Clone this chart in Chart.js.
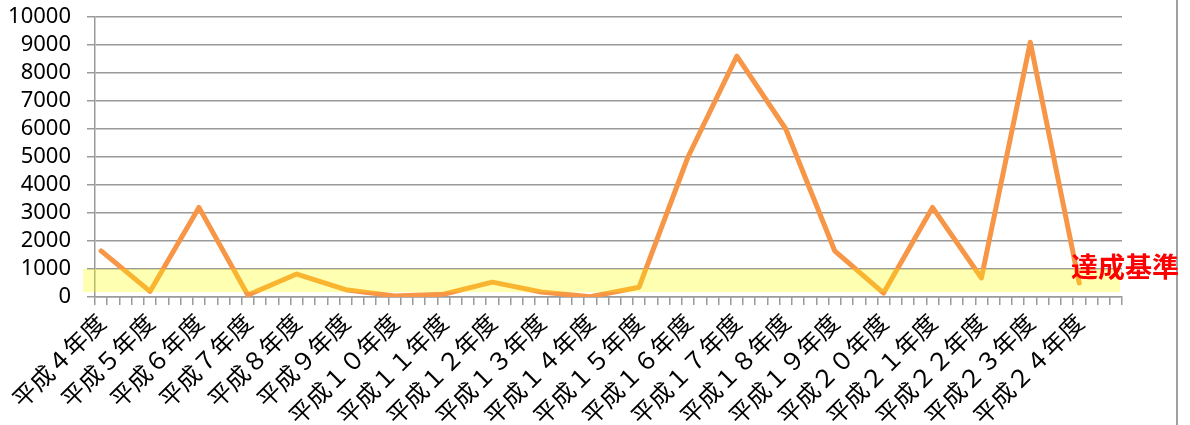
<!DOCTYPE html>
<html>
<head>
<meta charset="utf-8">
<script src="https://cdn.jsdelivr.net/npm/chart.js@4.4.1/dist/chart.umd.min.js"></script>
<style>
  html, body { margin: 0; padding: 0; background: #fff; }
  #wrap { width: 1190px; height: 425px; }
</style>
</head>
<body>
<div id="wrap"><canvas id="chart" width="1190" height="425"></canvas></div>
<script>
// 年度ごとの値
const years = ['平成４年度', '平成５年度', '平成６年度', '平成７年度', '平成８年度', '平成９年度',
  '平成１０年度', '平成１１年度', '平成１２年度', '平成１３年度', '平成１４年度', '平成１５年度',
  '平成１６年度', '平成１７年度', '平成１８年度', '平成１９年度', '平成２０年度', '平成２１年度',
  '平成２２年度', '平成２３年度', '平成２４年度'];
const values = [1650, 200, 3200, 70, 820, 260, 40, 100, 530, 180, 10, 350,
  5000, 8600, 6000, 1650, 140, 3200, 680, 9100, 500];
const yMax = 10000;
const yStep = 1000;
const targetValue = 1000;   // 達成基準
const bandBottom = 170;
const targetLabel = '達成基準';

// each year takes 4 small tick slots on the x axis
const slotsPerYear = 4;
const slotLabels = [];
const slotData = [];
years.forEach((y, i) => {
  for (let k = 0; k < slotsPerYear; k++) {
    slotLabels.push(k === 0 ? y : '');
    slotData.push(k === 0 ? values[i] : null);
  }
});

const gridColor = '#9a9a9a';

const targetBand = {
  id: 'targetBand',
  afterDatasetsDraw(chart) {
    const { ctx, chartArea, scales } = chart;
    const yTop = scales.y.getPixelForValue(targetValue);
    const yBot = scales.y.getPixelForValue(bandBottom);
    ctx.save();
    ctx.fillStyle = 'rgba(255, 255, 0, 0.3)';
    ctx.fillRect(chartArea.left - 12, yTop, chartArea.right - 2 - (chartArea.left - 12), yBot - yTop);
    ctx.restore();
  },
  afterDraw(chart) {
    const { ctx, scales } = chart;
    ctx.save();
    // outer frame line on the right
    ctx.strokeStyle = '#a0a0a0';
    ctx.lineWidth = 2;
    ctx.beginPath();
    ctx.moveTo(1177, 0);
    ctx.lineTo(1177, 425);
    ctx.stroke();
    ctx.fillStyle = '#ff0000';
    ctx.font = 'bold 27px "Noto Sans CJK JP"';
    ctx.textBaseline = 'middle';
    ctx.textAlign = 'left';
    ctx.fillText(targetLabel, 1071, scales.y.getPixelForValue(targetValue) - 2);
    ctx.restore();
  }
};

new Chart(document.getElementById('chart'), {
  type: 'line',
  data: {
    labels: slotLabels,
    datasets: [{
      data: slotData,
      spanGaps: true,
      borderColor: '#f79646',
      borderWidth: 5,
      borderCapStyle: 'round',
      borderJoinStyle: 'round',
      tension: 0,
      pointRadius: 0,
      pointHoverRadius: 0
    }]
  },
  options: {
    responsive: false,
    animation: false,
    layout: { padding: { top: 17, right: 68, left: 0, bottom: 0 } },
    plugins: {
      legend: { display: false },
      tooltip: { enabled: false }
    },
    scales: {
      x: {
        type: 'category',
        offset: true,
        grid: {
          offset: true,
          drawOnChartArea: false,
          drawTicks: true,
          tickLength: 8,
          color: gridColor,
          lineWidth: 1.5
        },
        border: { color: gridColor, width: 1.5 },
        ticks: {
          autoSkip: false,
          maxRotation: 45,
          minRotation: 45,
          padding: 3,
          color: '#000',
          font: { family: '"Noto Sans CJK JP"', size: 24 }
        },
        afterFit(scale) { scale.height = 128; }
      },
      y: {
        min: 0,
        max: yMax,
        grid: {
          color: gridColor,
          lineWidth: 1.5,
          tickLength: 8
        },
        border: { color: gridColor, width: 1.5 },
        ticks: {
          stepSize: yStep,
          autoSkip: false,
          padding: 16,
          color: '#000',
          font: { family: '"Noto Sans"', size: 22 },
          callback: v => String(v)
        },
        afterFit(scale) {
          scale.width = 95;
          scale.paddingTop = 0;
          scale.paddingBottom = 0;
        }
      }
    }
  },
  plugins: [targetBand]
});
</script>
</body>
</html>
